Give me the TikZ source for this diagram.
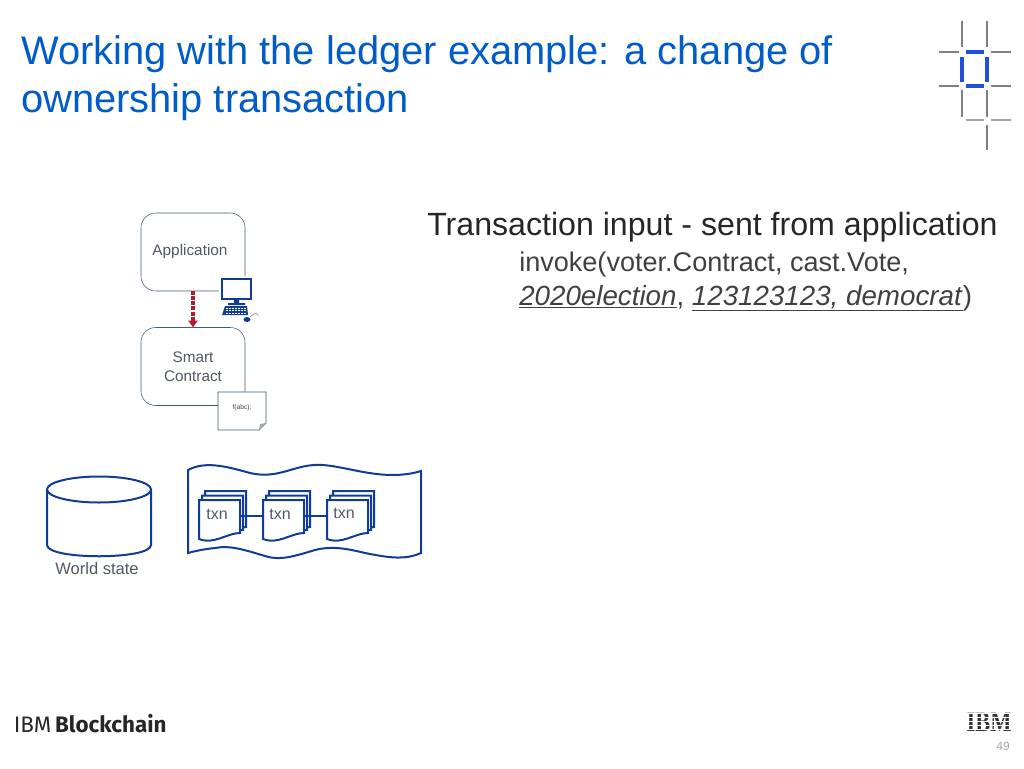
\documentclass[tikz,border=0pt]{standalone}
\usepackage{fontspec}
\setmainfont{Liberation Sans}
\newfontfamily\logofont{Fira Sans}
\newfontfamily\slabfont{Liberation Serif}
\usepackage{tikz}
\usetikzlibrary{arrows.meta, positioning}
\definecolor{ibmblue}{RGB}{0, 92, 200}
\definecolor{inkblue}{RGB}{16, 60, 150}
\definecolor{boxline}{RGB}{62, 92, 118}
\definecolor{labelgrey}{RGB}{80, 88, 100}
\definecolor{arrowred}{RGB}{175, 28, 44}
\definecolor{markblue}{RGB}{30, 80, 220}
\tikzset{
  appbox/.style={draw=boxline, rounded corners=11pt, minimum width=78pt, minimum height=58.5pt, align=center, text=labelgrey, font=\fontsize{11.5}{14.5}\selectfont, inner sep=0pt},
  inkline/.style={draw=inkblue, line width=1.5pt},
  txnlabel/.style={text=labelgrey, font=\fontsize{12}{14}\selectfont, inner sep=0pt},
  link/.style={draw=inkblue, line width=1.3pt},
  gridline/.style={draw=black!50, line width=1.1pt},
  markline/.style={draw=markblue, line width=2.6pt},
}
\begin{document}
\begin{tikzpicture}[x=0.75pt, y=-0.75pt]
  \useasboundingbox (0,0) rectangle (1024,768);
  % heading
  \node[anchor=north west, text=ibmblue, inner sep=0pt, align=left, font=\fontsize{29.9}{36}\selectfont] (title) at (21,35) {Working with the ledger example: a change of\\ownership transaction};
  % corner mark
  \foreach \x/\ya/\yb in {962/21/47, 987/21/47, 962/90/117, 987/90/117, 987/125/150}
    \draw[gridline] (\x,\ya) -- (\x,\yb);
  \foreach \y in {52,86} {
    \draw[gridline] (939,\y) -- (959,\y);
    \draw[gridline] (991,\y) -- (1011,\y);
  }
  \draw[black!35, line width=1pt] (966,120) -- (984,120) (991,120) -- (1011,120);
  \draw[markline] (966,52) -- (984,52) (966,86) -- (984,86) (962,57) -- (962,82) (987,57) -- (987,82);
  % right hand text
  \node[anchor=west, text=black!85, inner sep=0pt, font=\fontsize{24.1}{28}\selectfont] (inputhead) at (427,227) {Transaction input - sent from application};
  \node[anchor=north west, text=black!75, inner sep=0pt, align=left, font=\fontsize{20.3}{25}\selectfont] (inputcall) at (519,252) {invoke(voter.Contract, cast.Vote,\\\fontsize{20.8}{25}\selectfont\underline{\textit{2020election}}, \underline{\textit{123123123, democrat}})};
  % application and contract
  \node[appbox] (app) at (193,252) {Application\hspace{4.5pt}};
  \node[appbox] (contract) at (193,366.5) {Smart\\Contract};
  \draw[arrowred, line width=2.4pt, dash pattern=on 3pt off 0.8pt, -{Triangle[length=5pt,width=7pt]}] (app.south) -- (contract.north);
  % computer
  \fill[white] (219,276) rectangle (260,322);
  \draw[draw=inkblue, line width=1.8pt, fill=white] (222,279) rectangle (251,299);
  \fill[inkblue] (234,300) rectangle (239,303) (228,303) rectangle (245,305);
  \fill[inkblue] (225,306) -- (247,306) -- (248,315) -- (222,315) -- cycle;
  \foreach \y in {308,310.5,313}
    \draw[white, line width=0.5pt, dash pattern=on 1.5pt off 0.7pt] (226,\y) -- (246,\y);
  \fill[inkblue] (247,319.5) ellipse (3.5 and 2.5);
  \draw[black!45, line width=0.5pt] (250,317) .. controls (254,312) and (259,313) .. (258,316);
  % script sheet
  \draw[draw=boxline, line width=0.7pt, fill=white] (218,392) -- (266,392) -- (266,423) -- (259,430) -- (218,430) -- cycle;
  \fill[boxline!50] (266,423) -- (260,424) -- (259,430) -- cycle;
  \node[text=black!75, inner sep=0pt, font=\fontsize{5}{6}\selectfont] (sheet) at (242,408) {f(abc);};
  % world state
  \draw[inkline] (47,489.5) -- (47,545) .. controls (47,560) and (151,560) .. (151,545) -- (151,489.5);
  \draw[inkline] (99,489.5) ellipse (52 and 13);
  \node[text=labelgrey, inner sep=0pt, font=\fontsize{12.4}{14}\selectfont] (world) at (97,569) {World state};
  % ledger
  \draw[inkline] (188,470) .. controls (205,461) and (225,466) .. (250,473) .. controls (280,480) and (295,463) .. (323,465) .. controls (350,467) and (385,482) .. (421,471) -- (421,553) .. controls (405,560) and (390,558) .. (365,553) .. controls (345,548) and (330,546) .. (315,550) .. controls (295,556) and (280,561) .. (265,556) .. controls (245,550) and (230,545) .. (215,548) .. controls (205,549) and (195,551) .. (188,553) -- cycle;
  % txn stacks
  \foreach \name/\x/\tx/\ty in {txna/199/217/514, txnb/263/280/514, txnc/327/344/513} {
    \foreach \off in {6,3,0}
      \draw[inkline, fill=white] (\x+\off,500-\off*1.5) -- (\x+\off+41,500-\off*1.5) -- (\x+\off+41,533-\off) .. controls (\x+\off+28,533-\off) and (\x+\off+15,545-\off) .. (\x+\off,539-\off) -- cycle;
    \node[txnlabel] at (\tx,\ty) {txn};
    \coordinate (\name w) at (\x,516);
    \coordinate (\name e) at (\x+41,516);
  }
  \draw[link] (txnae) -- (txnbw);
  \draw[link] (txnbe) -- (txncw);
  % footer
  \node[anchor=west, inner sep=0pt, text=black!85, font=\fontsize{16.8}{20}\selectfont\logofont] (brand) at (13.5,724) {IBM\,\textbf{Blockchain}};
  \node[inner sep=0pt, text=black!80, xscale=0.8, transform shape, font=\fontsize{21}{24}\selectfont\slabfont\bfseries] (ibmlogo) at (989,722) {IBM};
  \foreach \y in {713.5,717.5,721.5,725.5,729.5}
    \draw[white, line width=0.6pt] (962,\y) -- (1016,\y);
  \node[text=black!35, inner sep=0pt, font=\fontsize{9}{11}\selectfont] (pagenum) at (1003,746) {49};
\end{tikzpicture}
\end{document}
